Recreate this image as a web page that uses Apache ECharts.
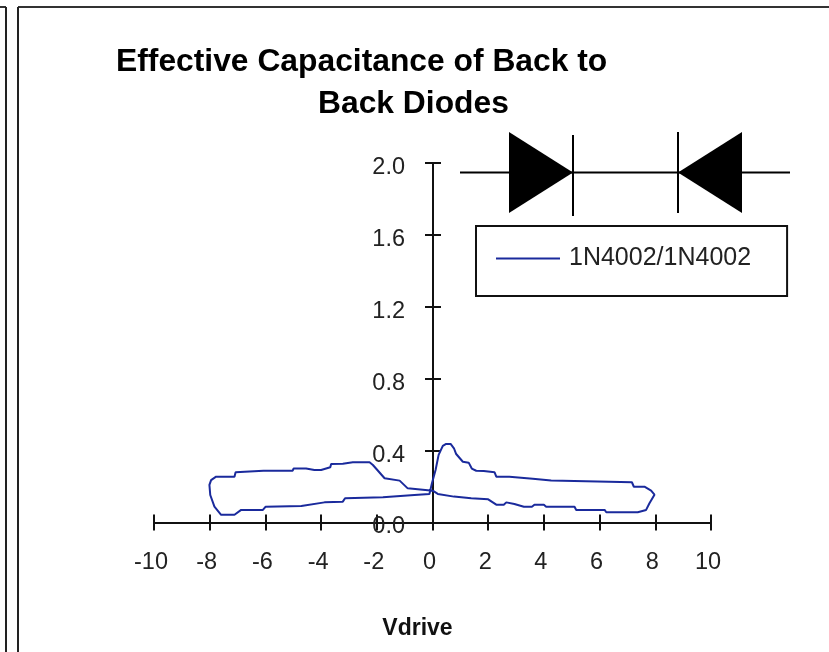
<!DOCTYPE html>
<html><head><meta charset="utf-8">
<style>html,body{margin:0;padding:0;background:#fff}#c{width:829px;height:652px}</style>
<script src="https://cdn.jsdelivr.net/npm/echarts@6/dist/echarts.min.js"></script>
</head><body><div id="c"></div>
<script>
const titleLines = ['Effective Capacitance of Back to', 'Back Diodes'];
const seriesName = '1N4002/1N4002';
const xAxisName = 'Vdrive';
const vdrive = [-0.02,0.11,0.22,0.37,0.49,0.65,0.77,0.85,1.09,1.30,1.41,1.57,1.84,1.87,2.23,2.29,2.76,2.80,3.60,3.64,4.26,4.30,7.16,7.23,7.61,7.85,7.97,7.79,7.67,7.37,6.24,6.18,5.16,5.10,4.08,4.00,3.66,3.57,3.28,2.94,2.65,2.56,2.29,2.00,1.93,1.39,1.33,0.77,0.73,0.19,0.01,
 -0.89,-1.18,-1.72,-2.14,-2.26,-2.86,-3.22,-3.64,-3.67,-4.00,-4.24,-4.54,-4.57,-4.99,-5.02,-6.07,-6.09,-7.07,-7.11,-7.77,-7.95,-8.01,-7.98,-7.83,-7.59,-7.11,-6.87,-6.09,-5.99,-4.71,-3.88,-3.22,-3.14,-1.78,-0.65,-0.11,-0.02];
const capacitance = [0.218,0.292,0.376,0.426,0.437,0.437,0.413,0.381,0.338,0.333,0.300,0.288,0.286,0.279,0.279,0.255,0.255,0.244,0.244,0.233,0.233,0.224,0.224,0.199,0.199,0.177,0.155,0.107,0.070,0.057,0.057,0.070,0.070,0.088,0.088,0.099,0.099,0.088,0.088,0.103,0.112,0.099,0.099,0.129,0.135,0.135,0.144,0.144,0.155,0.159,0.177,
 0.190,0.233,0.246,0.320,0.335,0.335,0.327,0.326,0.307,0.292,0.292,0.301,0.292,0.300,0.288,0.288,0.279,0.279,0.255,0.255,0.236,0.209,0.153,0.088,0.043,0.043,0.070,0.070,0.088,0.092,0.112,0.116,0.135,0.140,0.153,0.159,0.218];
const xMin = -10, xMax = 10, xStep = 2;
const yMin = 0, yMax = 2, yStep = 0.4;

const font = '"Liberation Sans", Arial, sans-serif';
const ink = '#111';
const lineStyle = {color: ink, width: 2};
function ln(x1, y1, x2, y2, w, c) {
  return {type: 'line', silent: true, shape: {x1, y1, x2, y2}, style: {stroke: c || '#000', lineWidth: w || 2}};
}
function tri(pts) {
  return {type: 'polygon', silent: true, shape: {points: pts}, style: {fill: '#000'}};
}
const chart = echarts.init(document.getElementById('c'), null, {renderer: 'canvas'});
const xBase = {type: 'value', min: xMin, max: xMax, interval: xStep, splitLine: {show: false},
  axisLine: {show: true, onZero: true, lineStyle}, axisTick: {show: true, length: 8, lineStyle}};
const yBase = {type: 'value', min: yMin, max: yMax, interval: yStep, splitLine: {show: false}, position: 'left', offset: -279,
  axisLine: {show: true, onZero: false, lineStyle}, axisTick: {show: true, length: 8, lineStyle}};
chart.setOption({
  animation: false,
  backgroundColor: '#fff',
  title: [
    {text: titleLines[0], left: 116, top: 46, textStyle: {fontFamily: font, fontWeight: 'bold', fontSize: 31.8, color: '#000'}, padding: 0},
    {text: titleLines[1], left: 318, top: 88, textStyle: {fontFamily: font, fontWeight: 'bold', fontSize: 31.8, color: '#000'}, padding: 0}
  ],
  grid: {left: 154, right: 118, top: 163, height: 359.5, containLabel: false},
  legend: {
    show: true, left: 476, top: 226, orient: 'horizontal',
    data: [{name: seriesName, icon: 'path://M0 0H64V2H0Z'}],
    itemWidth: 64, itemHeight: 2, itemGap: 0,
    padding: [20, 36, 25, 20],
    borderColor: '#111', borderWidth: 2, backgroundColor: '#fff',
    textStyle: {fontFamily: font, fontSize: 25, color: '#222', padding: [0, 0, 0, 4]}
  },
  xAxis: [
    Object.assign({}, xBase, {
      name: xAxisName, nameLocation: 'middle', nameGap: 95,
      nameTextStyle: {fontFamily: font, fontWeight: 'bold', fontSize: 23, color: '#111', padding: [0, 30, 0, 0]},
      axisLabel: {margin: 28, fontFamily: font, fontSize: 23.5, color: '#222', padding: [0, 6, 0, 0], showMinLabel: true, showMaxLabel: true}
    }),
    Object.assign({}, xBase, {position: 'bottom', axisLabel: {show: false}, axisTick: {show: true, inside: true, length: 8, lineStyle}})
  ],
  yAxis: [
    Object.assign({}, yBase, {
      axisLabel: {margin: 28, fontFamily: font, fontSize: 23.5, color: '#222', lineHeight: 9, formatter: v => '\n' + v.toFixed(1)}
    }),
    Object.assign({}, yBase, {axisLabel: {show: false}, axisTick: {show: true, inside: true, length: 8, lineStyle}})
  ],
  series: [{
    name: seriesName, type: 'line', showSymbol: false, smooth: false,
    data: vdrive.map((x, i) => [x, capacitance[i]]),
    lineStyle: {color: '#1a2a9c', width: 2},
    itemStyle: {color: '#1a2a9c'},
    z: 5
  }],
  graphic: {elements: [
    ln(0, 7, 6, 7, 2, '#333'), ln(6, 7, 6, 652, 2, '#222'),
    ln(18, 7, 829, 7, 2, '#333'), ln(18, 7, 18, 652, 2, '#222'),
    ln(460, 172.5, 790, 172.5),
    tri([[509, 132], [509, 213], [573, 172.5]]),
    tri([[742, 132], [742, 213], [678, 172.5]]),
    ln(573, 135, 573, 216), ln(678, 132, 678, 213)
  ]}
});
</script></body></html>
